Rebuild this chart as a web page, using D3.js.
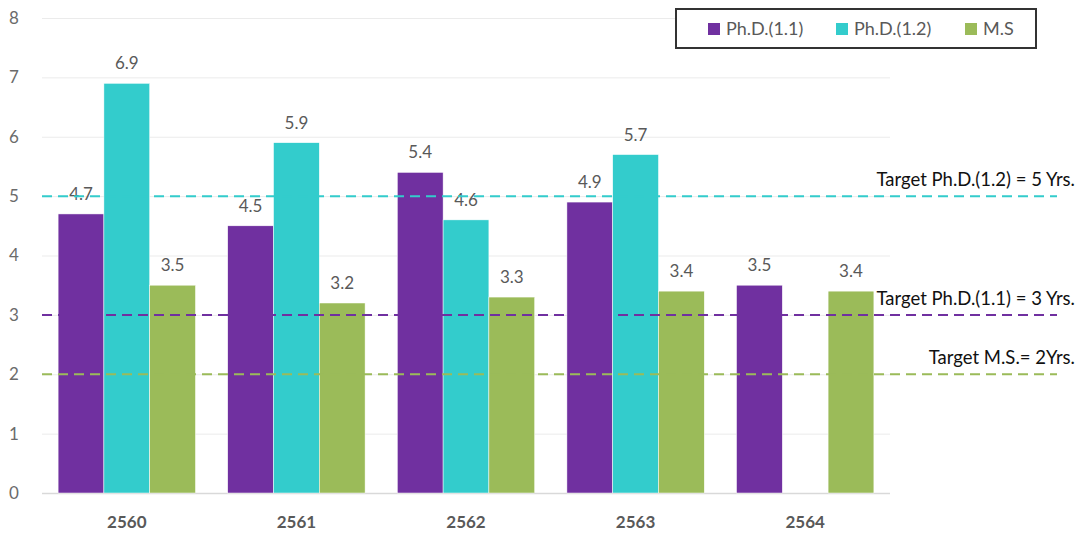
<!DOCTYPE html>
<html lang="en">
<head>
<meta charset="UTF-8">
<script src="https://d3js.org/d3.v7.min.js"></script>
<title>Chart</title>
<style>
  body{margin:0;background:#fff;}
  svg{display:block;font-family:"Lato","Open Sans",sans-serif;}
  .grid line{stroke:#ebebeb;stroke-width:1px;}
  .val{fill:#595959;font-size:17px;text-anchor:middle;}
  .ytick{fill:#6b6b6b;font-size:17px;text-anchor:middle;}
  .xtick{fill:#595959;font-size:17px;font-weight:700;text-anchor:middle;}
  .target{fill:#111;font-size:18.5px;text-anchor:end;}
  .leg{fill:#595959;font-size:18px;}
</style>
</head>
<body>
<svg id="chart" width="1083" height="533"></svg>
<script>
var years = ["2560","2561","2562","2563","2564"];
var seriesNames = ["Ph.D.(1.1)","Ph.D.(1.2)","M.S"];
var phd11 = [4.7,4.5,5.4,4.9,3.5];
var phd12 = [6.9,5.9,4.6,5.7,null];
var ms = [3.5,3.2,3.3,3.4,3.4];
var yTicks = [0,1,2,3,4,5,6,7,8];
var targets = [
  {label:"Target Ph.D.(1.2) = 5 Yrs.", value:5, color:"#33CCCC"},
  {label:"Target Ph.D.(1.1) = 3 Yrs.", value:3, color:"#7030A0"},
  {label:"Target M.S.= 2Yrs.", value:2, color:"#9BBB59"}
];
var colors = ["#7030A0","#33CCCC","#9BBB59"];
var values = [phd11, phd12, ms];

var svg = d3.select("#chart");

var y = d3.scaleLinear().domain([0,8]).range([493,18]);
var x = d3.scaleBand().domain(years).range([42,890]).paddingInner(0.19).paddingOuter(0.095);
var xs = d3.scaleBand().domain(seriesNames).range([0,x.bandwidth()]);

// gridlines
svg.append("g").attr("class","grid")
  .selectAll("line").data(yTicks.slice(1)).enter().append("line")
  .attr("x1",42).attr("x2",890)
  .attr("y1",d=>y(d)+0.5).attr("y2",d=>y(d)+0.5);

svg.append("line").attr("x1",42).attr("x2",890)
  .attr("y1",y(0)+0.5).attr("y2",y(0)+0.5)
  .attr("stroke","#d9d9d9").attr("stroke-width",1.5);

// y labels
svg.append("g").selectAll("text").data(yTicks).enter().append("text")
  .attr("class","ytick").attr("x",14).attr("y",d=>y(d)).attr("dy","0.35em")
  .text(d=>d);

// bars
var rows = [];
years.forEach(function(yr,i){
  seriesNames.forEach(function(s,j){
    if(values[j][i]!=null) rows.push({year:yr,series:s,v:values[j][i],c:colors[j]});
  });
});

svg.append("g").selectAll("rect").data(rows).enter().append("rect")
  .attr("x",d=>x(d.year)+xs(d.series))
  .attr("width",xs.bandwidth())
  .attr("y",d=>y(d.v))
  .attr("height",d=>y(0)-y(d.v))
  .attr("fill",d=>d.c)
  .attr("stroke","#fff").attr("stroke-width",0.5);

svg.append("g").selectAll("text").data(rows).enter().append("text")
  .attr("class","val")
  .attr("x",d=>x(d.year)+xs(d.series)+xs.bandwidth()/2)
  .attr("y",d=>y(d.v)-14)
  .text(d=>d.v.toFixed(1));

// x labels
svg.append("g").selectAll("text").data(years).enter().append("text")
  .attr("class","xtick")
  .attr("x",d=>x(d)+x.bandwidth()/2).attr("y",528)
  .text(d=>d);

// target lines
svg.append("g").selectAll("line").data(targets).enter().append("line")
  .attr("x1",42).attr("x2",1057)
  .attr("y1",d=>y(d.value)).attr("y2",d=>y(d.value))
  .attr("stroke",d=>d.color).attr("stroke-width",2)
  .attr("stroke-dasharray","10,6");

svg.append("g").selectAll("text").data(targets).enter().append("text")
  .attr("class","target")
  .attr("x",1075)
  .attr("y",d=>y(d.value)-10)
  .text(d=>d.label);

// legend
var lg = svg.append("g");
lg.append("rect").attr("x",676).attr("y",9).attr("width",360).attr("height",39)
  .attr("fill","#fff").attr("stroke","#333").attr("stroke-width",2);
var legX = [708,836,965];
seriesNames.forEach(function(s,j){
  lg.append("rect").attr("x",legX[j]).attr("y",23).attr("width",12).attr("height",12).attr("fill",colors[j]);
  lg.append("text").attr("class","leg").attr("x",legX[j]+18).attr("y",29).attr("dy","0.35em").text(s);
});
</script>
</body>
</html>
